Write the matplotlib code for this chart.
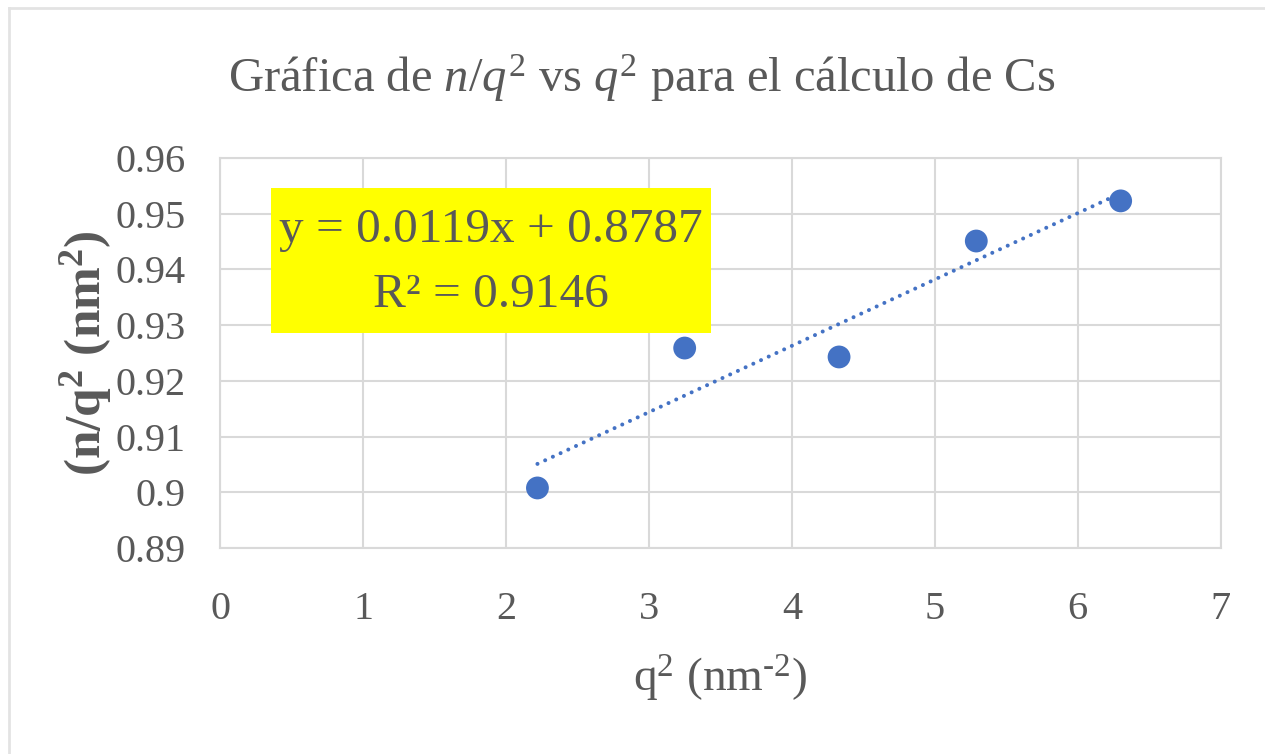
import numpy as np
import matplotlib
matplotlib.use("Agg")
import matplotlib.pyplot as plt
from matplotlib.lines import Line2D
from matplotlib.patches import Rectangle

# data
q2 = [2.22, 3.25, 4.33, 5.29, 6.30]
n_q2 = [0.9008, 0.9259, 0.9243, 0.9451, 0.9523]
slope = 0.0119
intercept = 0.8787
r2 = 0.9146
x_ticks = [0, 1, 2, 3, 4, 5, 6, 7]
y_ticks = [0.89, 0.90, 0.91, 0.92, 0.93, 0.94, 0.95, 0.96]
y_tick_labels = ['0.89', '0.9', '0.91', '0.92', '0.93', '0.94', '0.95', '0.96']

plt.rcParams['font.family'] = ['Liberation Serif', 'DejaVu Serif']
plt.rcParams['mathtext.fontset'] = 'custom'
plt.rcParams['mathtext.rm'] = 'Liberation Serif'
plt.rcParams['mathtext.it'] = 'Liberation Serif:italic'
plt.rcParams['mathtext.bf'] = 'Liberation Serif:bold'

text_col = '#595959'
blue = '#4472C4'
grid_col = '#D9D9D9'

fig = plt.figure(figsize=(12.65, 7.54), dpi=100)
ax = fig.add_axes([0.174, 0.273, 0.791, 0.5175])

# outer chart border
fig.add_artist(Line2D([0.007, 1.0], [0.989, 0.989], transform=fig.transFigure, color='#E3E3E3', lw=2))
fig.add_artist(Line2D([0.007, 0.007], [0.0, 0.989], transform=fig.transFigure, color='#E3E3E3', lw=2))

# trendline from the fitted equation
xt = np.array([min(q2), max(q2)])
ax.plot(xt, slope * xt + intercept, color=blue, lw=2.9, linestyle=(0, (0.01, 2.1)),
        dash_capstyle='round', zorder=3)
ax.scatter(q2, n_q2, s=270, color=blue, zorder=4, edgecolors='none')

ax.set_xlim(0, 7)
ax.set_ylim(0.89, 0.96)
ax.set_xticks(x_ticks)
ax.set_yticks(y_ticks)
ax.set_yticklabels(y_tick_labels)
ax.grid(True, color=grid_col, lw=1.5)
ax.set_axisbelow(True)
for s in ax.spines.values():
    s.set_color(grid_col)
    s.set_linewidth(1.5)
ax.tick_params(length=0, labelsize=29, colors=text_col)
ax.tick_params(axis='y', pad=25)
ax.tick_params(axis='x', pad=31)

ax.set_xlabel(r'q$^{2}$ (nm$^{\text{-}2}$)', fontsize=34, color=text_col, labelpad=18)
ax.set_ylabel(r'(n/q$^{\mathbf{2}}$ (nm$^{\mathbf{2}}$)', fontsize=37, color=text_col,
              fontweight='bold')
ax.yaxis.set_label_coords(-0.106, 0.5)

fig.text(0.507, 0.897, r'Gráfica de $n/q^{2}$ vs $q^{2}$ para el cálculo de Cs',
         ha='center', va='center', fontsize=35, color=text_col)

# equation box
ax.add_patch(Rectangle((0.051, 0.551), 0.4395, 0.372, transform=ax.transAxes,
                       facecolor='#FFFF00', edgecolor='none', zorder=5))
ax.text(0.271, 0.815, 'y = %.4fx + %.4f' % (slope, intercept), transform=ax.transAxes,
        ha='center', va='center', fontsize=35.5, color=text_col, zorder=6)
ax.text(0.271, 0.648, 'R² = %.4f' % r2, transform=ax.transAxes,
        ha='center', va='center', fontsize=35.5, color=text_col, zorder=6)

fig.savefig('out.png', dpi=100, facecolor='white')
